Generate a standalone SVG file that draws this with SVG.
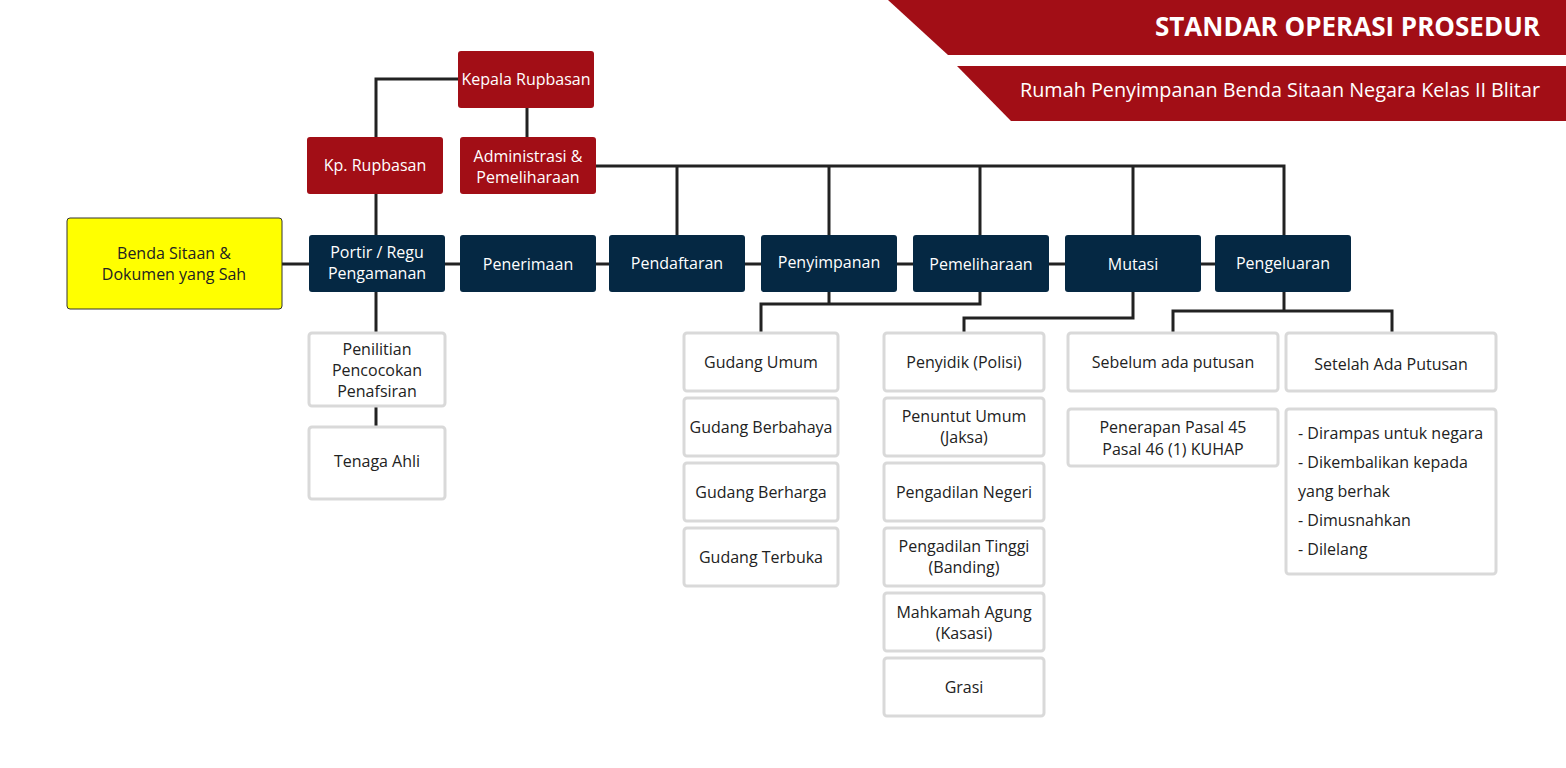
<svg xmlns="http://www.w3.org/2000/svg" width="1566" height="768" viewBox="0 0 1566 768">
<style>
text{font-family:"Open Sans","DejaVu Sans",sans-serif;font-size:16px;text-anchor:middle}
.red{fill:#a20e16}
.navy{fill:#052843}
.w{fill:#ffffff}
.lt{fill:#ffffff;stroke:#d9d9d9;stroke-width:3}
.dk{fill:#222222}
.con{fill:none;stroke:#222222;stroke-width:3}
</style>
<rect width="1566" height="768" fill="#ffffff"/>
<g id="header">
<polygon class="red" points="888,0 1566,0 1566,55 948,55"/>
<polygon class="red" points="957,66 1566,66 1566,121 1011,121"/>
<text x="1540" y="36" class="w" style="font-size:26px;font-weight:bold;text-anchor:end">STANDAR OPERASI PROSEDUR</text>
<text x="1540" y="97" class="w" style="font-size:19.8px;text-anchor:end">Rumah Penyimpanan Benda Sitaan Negara Kelas II Blitar</text>
</g>
<g id="connectors" class="con">
<polyline points="458,79 376,79 376,137"/>
<line x1="376" y1="194" x2="376" y2="235"/>
<line x1="527" y1="108" x2="527" y2="137"/>
<polyline points="596,166 1284,166 1284,235"/>
<line x1="677" y1="166" x2="677" y2="235"/>
<line x1="829" y1="166" x2="829" y2="235"/>
<line x1="980" y1="166" x2="980" y2="235"/>
<line x1="1133" y1="166" x2="1133" y2="235"/>
<line x1="282" y1="264" x2="1215" y2="264"/>
<line x1="376" y1="292" x2="376" y2="333"/>
<line x1="376" y1="406" x2="376" y2="427"/>
<polyline points="829,292 829,304"/>
<polyline points="761,333 761,304 980,304 980,292"/>
<polyline points="1133,292 1133,318 964,318 964,333"/>
<polyline points="1173,333 1173,311 1392,311 1392,333"/>
<line x1="1284" y1="292" x2="1284" y2="311"/>
</g>
<g id="kepala"><rect class="red" x="458" y="51" width="136" height="57" rx="3"/><text class="w" x="526" y="85">Kepala Rupbasan</text></g>
<g id="kp-rupbasan"><rect class="red" x="307" y="137" width="136" height="57" rx="3"/><text class="w" x="375" y="171">Kp. Rupbasan</text></g>
<g id="administrasi"><rect class="red" x="460" y="137" width="136" height="57" rx="3"/><text class="w" x="528" y="162">Administrasi &amp;</text><text class="w" x="528" y="183">Pemeliharaan</text></g>
<g id="benda"><rect x="67" y="218" width="215" height="91" rx="3" fill="#ffff00" stroke="#333333" stroke-width="1"/><text class="dk" x="174" y="259">Benda Sitaan &amp;</text><text class="dk" x="174" y="280">Dokumen yang Sah</text></g>
<g id="portir"><rect class="navy" x="309" y="235" width="136" height="57" rx="3"/><text class="w" x="377" y="258">Portir / Regu</text><text class="w" x="377" y="279">Pengamanan</text></g>
<g id="penerimaan"><rect class="navy" x="460" y="235" width="136" height="57" rx="3"/><text class="w" x="528" y="270">Penerimaan</text></g>
<g id="pendaftaran"><rect class="navy" x="609" y="235" width="136" height="57" rx="3"/><text class="w" x="677" y="269">Pendaftaran</text></g>
<g id="penyimpanan"><rect class="navy" x="761" y="235" width="136" height="57" rx="3"/><text class="w" x="829" y="268">Penyimpanan</text></g>
<g id="pemeliharaan"><rect class="navy" x="913" y="235" width="136" height="57" rx="3"/><text class="w" x="981" y="270">Pemeliharaan</text></g>
<g id="mutasi"><rect class="navy" x="1065" y="235" width="136" height="57" rx="3"/><text class="w" x="1133" y="270">Mutasi</text></g>
<g id="pengeluaran"><rect class="navy" x="1215" y="235" width="136" height="57" rx="3"/><text class="w" x="1283" y="269">Pengeluaran</text></g>
<g id="penilitian"><rect class="lt" x="309" y="333" width="136" height="73" rx="3"/><text class="dk" x="377" y="355">Penilitian</text><text class="dk" x="377" y="376">Pencocokan</text><text class="dk" x="377" y="397">Penafsiran</text></g>
<g id="tenaga-ahli"><rect class="lt" x="309" y="427" width="136" height="72" rx="3"/><text class="dk" x="377" y="467">Tenaga Ahli</text></g>
<g id="gudang-umum"><rect class="lt" x="684" y="333" width="154" height="58" rx="3"/><text class="dk" x="761" y="368">Gudang Umum</text></g>
<g id="gudang-berbahaya"><rect class="lt" x="684" y="398" width="154" height="58" rx="3"/><text class="dk" x="761" y="433">Gudang Berbahaya</text></g>
<g id="gudang-berharga"><rect class="lt" x="684" y="463" width="154" height="58" rx="3"/><text class="dk" x="761" y="498">Gudang Berharga</text></g>
<g id="gudang-terbuka"><rect class="lt" x="684" y="528" width="154" height="58" rx="3"/><text class="dk" x="761" y="563">Gudang Terbuka</text></g>
<g id="penyidik"><rect class="lt" x="884" y="333" width="160" height="58" rx="3"/><text class="dk" x="964" y="368">Penyidik (Polisi)</text></g>
<g id="penuntut"><rect class="lt" x="884" y="398" width="160" height="58" rx="3"/><text class="dk" x="964" y="422">Penuntut Umum</text><text class="dk" x="964" y="443">(Jaksa)</text></g>
<g id="pengadilan-negeri"><rect class="lt" x="884" y="463" width="160" height="58" rx="3"/><text class="dk" x="964" y="498">Pengadilan Negeri</text></g>
<g id="pengadilan-tinggi"><rect class="lt" x="884" y="528" width="160" height="58" rx="3"/><text class="dk" x="964" y="552">Pengadilan Tinggi</text><text class="dk" x="964" y="573">(Banding)</text></g>
<g id="mahkamah-agung"><rect class="lt" x="884" y="593" width="160" height="58" rx="3"/><text class="dk" x="964" y="618">Mahkamah Agung</text><text class="dk" x="964" y="639">(Kasasi)</text></g>
<g id="grasi"><rect class="lt" x="884" y="658" width="160" height="58" rx="3"/><text class="dk" x="964" y="693">Grasi</text></g>
<g id="sebelum"><rect class="lt" x="1068" y="333" width="210" height="58" rx="3"/><text class="dk" x="1173" y="368">Sebelum ada putusan</text></g>
<g id="setelah"><rect class="lt" x="1286" y="333" width="210" height="58" rx="3"/><text class="dk" x="1391" y="370">Setelah Ada Putusan</text></g>
<g id="penerapan"><rect class="lt" x="1068" y="409" width="210" height="57" rx="3"/><text class="dk" x="1173" y="433">Penerapan Pasal 45</text><text class="dk" x="1173" y="455">Pasal 46 (1) KUHAP</text></g>
<g id="daftar-putusan"><rect class="lt" x="1286" y="409" width="210" height="165" rx="3"/>
<text class="dk" x="1298" y="439" style="text-anchor:start">- Dirampas untuk negara</text>
<text class="dk" x="1298" y="468" style="text-anchor:start">- Dikembalikan kepada</text>
<text class="dk" x="1298" y="497" style="text-anchor:start">yang berhak</text>
<text class="dk" x="1298" y="526" style="text-anchor:start">- Dimusnahkan</text>
<text class="dk" x="1298" y="555" style="text-anchor:start">- Dilelang</text>
</g>
</svg>
